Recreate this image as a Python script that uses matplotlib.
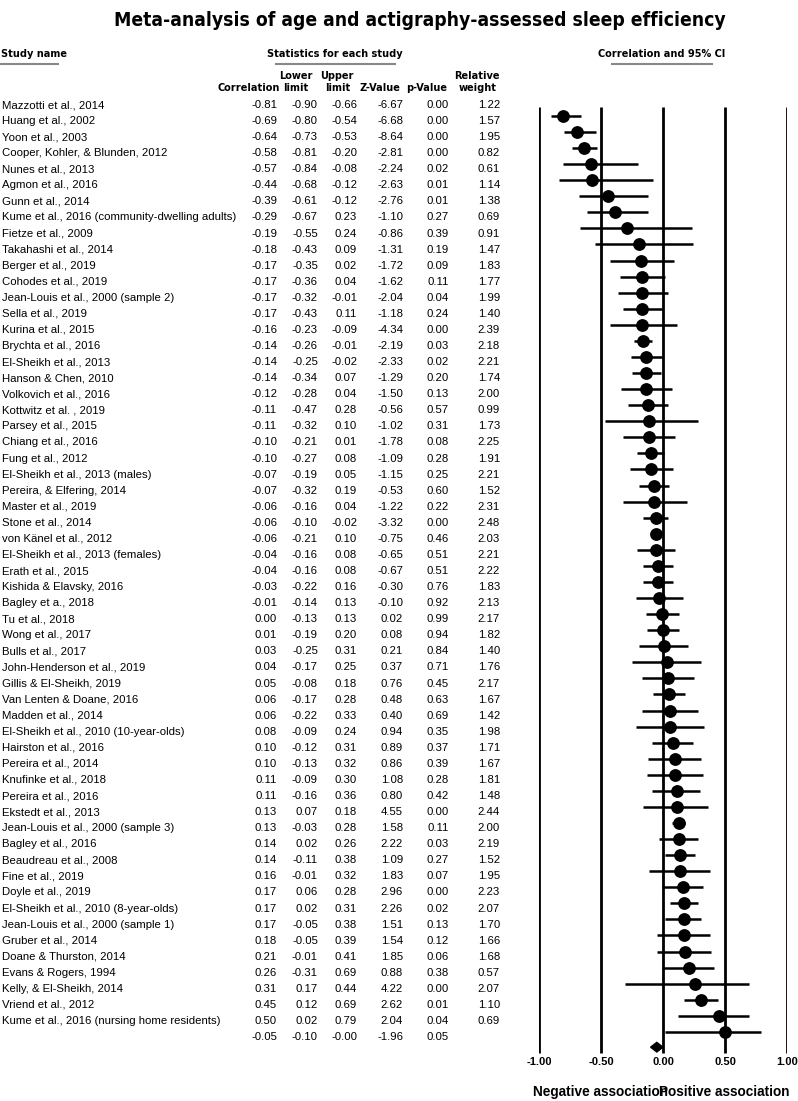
import numpy as np
import matplotlib
matplotlib.use("Agg")
import matplotlib.pyplot as plt
from matplotlib.lines import Line2D
from matplotlib.patches import Polygon

plt.rcParams['font.family'] = ['Liberation Sans', 'DejaVu Sans']
NARROW = dict(family="DejaVu Sans", fontstretch="condensed", fontweight="bold")

### Data

studies = [
    "Mazzotti et al., 2014", "Huang et al., 2002", "Yoon et al., 2003",
    "Cooper, Kohler, & Blunden, 2012", "Nunes et al., 2013", "Agmon et al., 2016",
    "Gunn et al., 2014", "Kume et al., 2016 (community-dwelling adults)",
    "Fietze et al., 2009", "Takahashi et al., 2014", "Berger et al., 2019",
    "Cohodes et al., 2019", "Jean-Louis et al., 2000 (sample 2)", "Sella et al., 2019",
    "Kurina et al., 2015", "Brychta et al., 2016", "El-Sheikh et al., 2013",
    "Hanson & Chen, 2010", "Volkovich et al., 2016", "Kottwitz et al. , 2019",
    "Parsey et al., 2015", "Chiang et al., 2016", "Fung et al., 2012",
    "El-Sheikh et al., 2013 (males)", "Pereira, & Elfering, 2014", "Master et al., 2019",
    "Stone et al., 2014", "von Känel et al., 2012", "El-Sheikh et al., 2013 (females)",
    "Erath et al., 2015", "Kishida & Elavsky, 2016", "Bagley et a., 2018",
    "Tu et al., 2018", "Wong et al., 2017", "Bulls et al., 2017",
    "John-Henderson et al., 2019", "Gillis & El-Sheikh, 2019", "Van Lenten & Doane, 2016",
    "Madden et al., 2014", "El-Sheikh et al., 2010 (10-year-olds)", "Hairston et al., 2016",
    "Pereira et al., 2014", "Knufinke et al., 2018", "Pereira et al., 2016",
    "Ekstedt et al., 2013", "Jean-Louis et al., 2000 (sample 3)", "Bagley et al., 2016",
    "Beaudreau et al., 2008", "Fine et al., 2019", "Doyle et al., 2019",
    "El-Sheikh et al., 2010 (8-year-olds)", "Jean-Louis et al., 2000 (sample 1)",
    "Gruber et al., 2014", "Doane & Thurston, 2014", "Evans & Rogers, 1994",
    "Kelly, & El-Sheikh, 2014", "Vriend et al., 2012", "Kume et al., 2016 (nursing home residents)",
]
corr = [-0.81, -0.69, -0.64, -0.58, -0.57, -0.44, -0.39, -0.29, -0.19, -0.18, -0.17, -0.17,
        -0.17, -0.17, -0.16, -0.14, -0.14, -0.14, -0.12, -0.11, -0.11, -0.10, -0.10, -0.07,
        -0.07, -0.06, -0.06, -0.06, -0.04, -0.04, -0.03, -0.01, 0.00, 0.01, 0.03, 0.04,
        0.05, 0.06, 0.06, 0.08, 0.10, 0.10, 0.11, 0.11, 0.13, 0.13, 0.14, 0.14,
        0.16, 0.17, 0.17, 0.17, 0.18, 0.21, 0.26, 0.31, 0.45, 0.50]
lower = [-0.90, -0.80, -0.73, -0.81, -0.84, -0.68, -0.61, -0.67, -0.55, -0.43, -0.35, -0.36,
         -0.32, -0.43, -0.23, -0.26, -0.25, -0.34, -0.28, -0.47, -0.32, -0.21, -0.27, -0.19,
         -0.32, -0.16, -0.10, -0.21, -0.16, -0.16, -0.22, -0.14, -0.13, -0.19, -0.25, -0.17,
         -0.08, -0.17, -0.22, -0.09, -0.12, -0.13, -0.09, -0.16, 0.07, -0.03, 0.02, -0.11,
         -0.01, 0.06, 0.02, -0.05, -0.05, -0.01, -0.31, 0.17, 0.12, 0.02]
upper = [-0.66, -0.54, -0.53, -0.20, -0.08, -0.12, -0.12, 0.23, 0.24, 0.09, 0.02, 0.04,
         -0.01, 0.11, -0.09, -0.01, -0.02, 0.07, 0.04, 0.28, 0.10, 0.01, 0.08, 0.05,
         0.19, 0.04, -0.02, 0.10, 0.08, 0.08, 0.16, 0.13, 0.13, 0.20, 0.31, 0.25,
         0.18, 0.28, 0.33, 0.24, 0.31, 0.32, 0.30, 0.36, 0.18, 0.28, 0.26, 0.38,
         0.32, 0.28, 0.31, 0.38, 0.39, 0.41, 0.69, 0.44, 0.69, 0.79]
zval = [-6.67, -6.68, -8.64, -2.81, -2.24, -2.63, -2.76, -1.10, -0.86, -1.31, -1.72, -1.62,
        -2.04, -1.18, -4.34, -2.19, -2.33, -1.29, -1.50, -0.56, -1.02, -1.78, -1.09, -1.15,
        -0.53, -1.22, -3.32, -0.75, -0.65, -0.67, -0.30, -0.10, 0.02, 0.08, 0.21, 0.37,
        0.76, 0.48, 0.40, 0.94, 0.89, 0.86, 1.08, 0.80, 4.55, 1.58, 2.22, 1.09,
        1.83, 2.96, 2.26, 1.51, 1.54, 1.85, 0.88, 4.22, 2.62, 2.04]
pval = [0.00, 0.00, 0.00, 0.00, 0.02, 0.01, 0.01, 0.27, 0.39, 0.19, 0.09, 0.11,
        0.04, 0.24, 0.00, 0.03, 0.02, 0.20, 0.13, 0.57, 0.31, 0.08, 0.28, 0.25,
        0.60, 0.22, 0.00, 0.46, 0.51, 0.51, 0.76, 0.92, 0.99, 0.94, 0.84, 0.71,
        0.45, 0.63, 0.69, 0.35, 0.37, 0.39, 0.28, 0.42, 0.00, 0.11, 0.03, 0.27,
        0.07, 0.00, 0.02, 0.13, 0.12, 0.06, 0.38, 0.00, 0.01, 0.04]
weight = [1.22, 1.57, 1.95, 0.82, 0.61, 1.14, 1.38, 0.69, 0.91, 1.47, 1.83, 1.77,
          1.99, 1.40, 2.39, 2.18, 2.21, 1.74, 2.00, 0.99, 1.73, 2.25, 1.91, 2.21,
          1.52, 2.31, 2.48, 2.03, 2.21, 2.22, 1.83, 2.13, 2.17, 1.82, 1.40, 1.76,
          2.17, 1.67, 1.42, 1.98, 1.71, 1.67, 1.81, 1.48, 2.44, 2.00, 2.19, 1.52,
          1.95, 2.23, 2.07, 1.70, 1.66, 1.68, 0.57, 2.07, 1.10, 0.69]

# pooled estimate
sum_corr, sum_lower, sum_upper, sum_z, sum_p = -0.05, -0.10, -0.0, -1.96, 0.05

ticks = [-1.0, -0.5, 0.0, 0.5, 1.0]

### Layout helpers (pixel -> figure fraction)
W, H = 798, 1101
fig = plt.figure(figsize=(W / 100, H / 100), dpi=100)

def fx(px):
    return px / W

def fy(py):
    return 1 - py / H

row0, rowh = 105.0, 16.07
top_px, bot_px = 95, 1054
ylim = ((bot_px - row0) / rowh, (top_px - row0) / rowh)
ax_b, ax_h = fy(bot_px), (bot_px - top_px) / H

tab = fig.add_axes([0, ax_b, fx(520), ax_h])
tab.set_xlim(0, 520)
tab.set_ylim(*ylim)
tab.axis("off")

ax = fig.add_axes([fx(539), ax_b, fx(248), ax_h])
ax.set_xlim(-1, 1)
ax.set_ylim(*ylim)

n = len(studies)
rows = np.arange(n)
fs = 8.2

### Table text
col_x = [277, 318, 357, 403, 449, 500]
for i in range(n):
    tab.text(2, rows[i], studies[i], fontsize=fs, ha="left", va="center")
    vals = [corr[i], lower[i], upper[i], zval[i], pval[i], weight[i]]
    for x, v in zip(col_x, vals):
        tab.text(x, rows[i], "{:.2f}".format(v), fontsize=fs, ha="right", va="center")
for x, v in zip(col_x, [sum_corr, sum_lower, sum_upper, sum_z, sum_p]):
    tab.text(x, n, "{:.2f}".format(v), fontsize=fs, ha="right", va="center")

### Headers
fig.text(0.5 * (fx(113) + fx(727)), fy(21), "Meta-analysis of age and actigraphy-assessed sleep efficiency",
         fontsize=13.9, ha="center", va="center", **NARROW)
hdr = dict(fontsize=7.8, **NARROW)
fig.text(fx(1), fy(54), "Study name", ha="left", va="center", **hdr)
fig.text(fx(335), fy(54), "Statistics for each study", ha="center", va="center", **hdr)
fig.text(fx(662), fy(54), "Correlation and 95% CI", ha="center", va="center", **hdr)
for x0, x1 in [(1, 58), (276, 395), (612, 712)]:
    fig.add_artist(Line2D([fx(x0), fx(x1)], [fy(64), fy(64)], color="#888888", lw=1.5))

col_hdr = [("Correlation", 280), ("Lower\nlimit", 313), ("Upper\nlimit", 354),
           ("Z-Value", 400), ("p-Value", 447), ("Relative\nweight", 500)]
for lab, x in col_hdr:
    fig.text(fx(x), fy(93), lab, ha="right", va="bottom", multialignment="center",
             linespacing=1.25, **hdr)

### Forest plot
off = 0.68
ax.vlines(ticks, 0.12, 59.0, color="black", lw=2)
ax.hlines(rows + off, lower, upper, color="black", lw=1.8)
ax.plot(corr, rows + off, "o", color="black", ms=8.2)
yd = n + off - 0.05
diamond = Polygon([[sum_lower, yd], [sum_corr, yd - 0.3], [sum_upper, yd], [sum_corr, yd + 0.3]],
                  closed=True, color="black")
ax.add_patch(diamond)

ax.set_xticks(ticks)
ax.set_xticklabels(["{:.2f}".format(t) for t in ticks], fontweight="bold", fontsize=8)
ax.tick_params(length=0, pad=2)
ax.set_yticks([])
for spine in ax.spines.values():
    spine.set_visible(False)

ax.text(-1.05, 61.4, "Negative association", fontweight="bold", fontsize=9.8, ha="left", va="center")
ax.text(-0.03, 61.4, "Positive association", fontweight="bold", fontsize=9.8, ha="left", va="center")

fig.savefig("out.png", dpi=100)
